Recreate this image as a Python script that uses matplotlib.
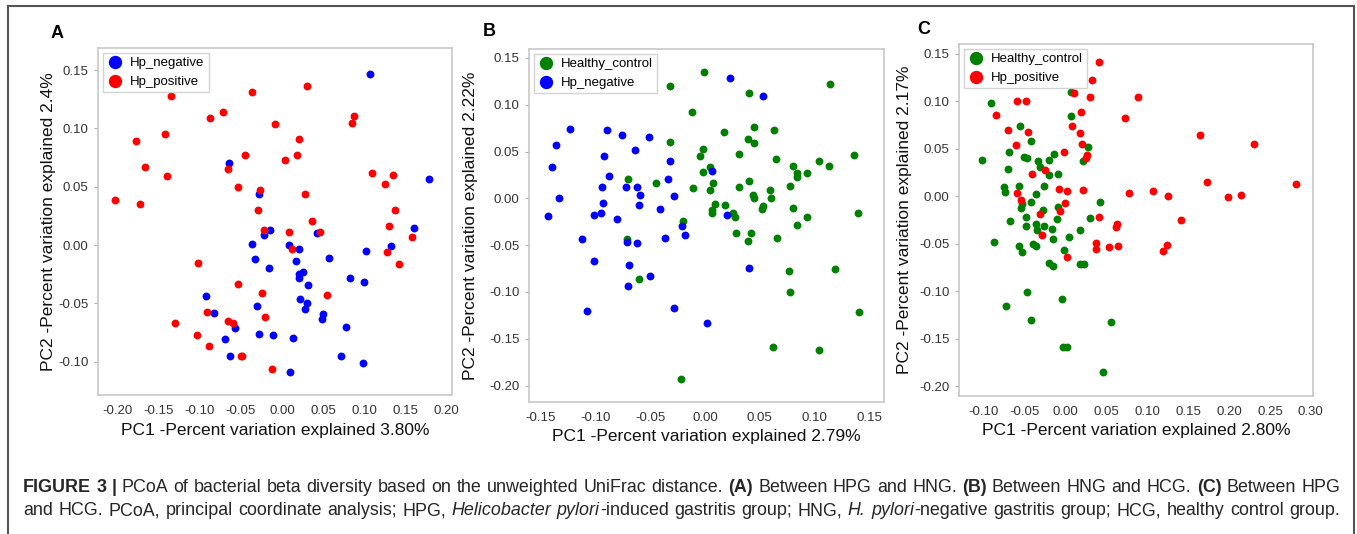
import matplotlib
matplotlib.use('Agg')
import matplotlib.pyplot as plt
from matplotlib.lines import Line2D

plt.rcParams['font.family'] = ['Liberation Sans', 'DejaVu Sans']
plt.rcParams['axes.unicode_minus'] = False

# ---- Panel A: Hp_negative vs Hp_positive ----
a_neg_x = [0.107, 0.179, -0.064, -0.028, -0.014, -0.022, 0.042, 0.160, -0.037, 0.008,
           0.021, 0.132, 0.102, -0.033, 0.017, 0.057, -0.016, 0.026, 0.021, 0.021,
           0.032, 0.083, 0.100, -0.092, 0.022, -0.030, 0.031, 0.028, -0.083, 0.050,
           0.049, -0.057, 0.078, -0.028, -0.011, -0.069, 0.013, -0.063, 0.072, 0.098,
           0.010]
a_neg_y = [0.147, 0.057, 0.070, 0.044, 0.013, 0.009, 0.010, 0.015, 0.001, -0.000,
           -0.003, -0.001, -0.005, -0.012, -0.014, -0.011, -0.020, -0.023, -0.025, -0.028,
           -0.034, -0.028, -0.032, -0.044, -0.046, -0.052, -0.050, -0.055, -0.058, -0.059,
           -0.063, -0.071, -0.070, -0.076, -0.077, -0.081, -0.080, -0.095, -0.095, -0.101,
           -0.109]
a_pos_x = [0.031, -0.037, -0.135, -0.072, -0.088, 0.088, 0.085, -0.009, -0.177, -0.142,
           0.021, -0.045, 0.018, 0.004, -0.166, -0.066, -0.140, 0.110, 0.135, 0.125,
           -0.053, -0.027, 0.028, -0.203, -0.172, -0.029, 0.138, 0.036, 0.130, -0.022,
           0.009, 0.046, 0.158, 0.012, 0.128, -0.102, 0.142, -0.054, -0.024, 0.055,
           -0.091, -0.021, -0.130, -0.065, -0.060, -0.103, -0.089, -0.049, -0.050, -0.012]
a_pos_y = [0.136, 0.131, 0.128, 0.114, 0.109, 0.111, 0.105, 0.104, 0.089, 0.095,
           0.091, 0.077, 0.077, 0.073, 0.067, 0.065, 0.059, 0.062, 0.060, 0.052,
           0.050, 0.047, 0.044, 0.039, 0.035, 0.030, 0.030, 0.021, 0.016, 0.013,
           0.011, 0.011, 0.007, -0.003, -0.006, -0.015, -0.016, -0.033, -0.041, -0.043,
           -0.057, -0.062, -0.067, -0.065, -0.067, -0.077, -0.087, -0.095, -0.095, -0.106]

# ---- Panel B: Healthy_control vs Hp_negative ----
b_hc_x = [-0.001, -0.032, 0.114, 0.040, -0.012, 0.017, 0.045, 0.063, 0.039, 0.045,
          -0.032, -0.002, -0.005, 0.031, 0.065, 0.136, 0.104, 0.113, 0.080, 0.005,
          -0.002, 0.084, 0.084, 0.093, -0.070, -0.045, 0.007, -0.011, 0.005, 0.031,
          0.040, 0.078, 0.059, 0.044, 0.045, 0.060, 0.009, 0.018, 0.053, 0.052,
          0.080, 0.006, 0.006, 0.026, 0.027, 0.140, 0.093, 0.084, -0.020, 0.028,
          0.042, 0.039, 0.066, -0.071, -0.060, 0.077, 0.119, 0.078, 0.141, 0.062,
          0.104, -0.022]
b_hc_y = [0.135, 0.120, 0.122, 0.113, 0.092, 0.071, 0.076, 0.073, 0.063, 0.059,
          0.060, 0.053, 0.045, 0.047, 0.042, 0.046, 0.040, 0.034, 0.035, 0.033,
          0.028, 0.027, 0.023, 0.027, 0.021, 0.016, 0.016, 0.011, 0.009, 0.012,
          0.019, 0.013, 0.009, 0.003, -0.000, -0.000, -0.006, -0.007, -0.008, -0.011,
          -0.010, -0.013, -0.016, -0.016, -0.020, -0.016, -0.020, -0.029, -0.024, -0.037,
          -0.037, -0.046, -0.042, -0.044, -0.086, -0.078, -0.075, -0.100, -0.121, -0.159,
          -0.162, -0.193]
b_neg_x = [0.023, 0.053, -0.123, -0.090, -0.076, -0.051, -0.136, -0.064, -0.092, -0.032,
           -0.140, 0.006, -0.088, -0.034, -0.094, -0.072, -0.062, -0.059, -0.133, -0.028,
           -0.093, -0.060, -0.041, -0.143, -0.101, -0.095, -0.080, 0.020, -0.021, -0.018,
           -0.112, -0.037, -0.071, -0.062, -0.101, -0.069, -0.050, -0.070, 0.040, -0.108,
           -0.028, 0.002]
b_neg_y = [0.129, 0.109, 0.074, 0.073, 0.068, 0.066, 0.057, 0.052, 0.045, 0.040,
           0.033, 0.029, 0.024, 0.021, 0.012, 0.012, 0.012, 0.004, 0.000, 0.002,
           -0.005, -0.007, -0.011, -0.019, -0.018, -0.016, -0.022, -0.018, -0.030, -0.039,
           -0.043, -0.042, -0.047, -0.048, -0.067, -0.071, -0.083, -0.094, -0.074, -0.120,
           -0.117, -0.133]

# ---- Panel C: Healthy_control vs Hp_positive ----
c_hc_x = [-0.091, 0.007, 0.006, -0.056, -0.043, -0.070, 0.027, -0.102, -0.051, -0.047,
          -0.034, -0.021, -0.014, 0.021, -0.071, -0.032, -0.020, -0.009, -0.075, -0.074,
          -0.057, -0.027, -0.036, -0.042, -0.054, -0.055, 0.042, -0.010, -0.028, -0.011,
          0.030, -0.068, -0.049, -0.049, -0.036, -0.026, -0.017, -0.035, 0.017, 0.004,
          -0.015, -0.088, -0.057, -0.053, -0.040, -0.036, -0.002, -0.020, -0.015, 0.018,
          0.022, -0.047, -0.004, -0.073, -0.043, 0.055, -0.003, 0.001, 0.046]
c_hc_y = [0.098, 0.110, 0.084, 0.074, 0.058, 0.047, 0.052, 0.038, 0.041, 0.040,
          0.037, 0.038, 0.044, 0.037, 0.029, 0.031, 0.022, 0.023, 0.010, 0.004,
          0.011, 0.011, 0.002, -0.006, -0.008, -0.012, -0.006, -0.011, -0.015, -0.024,
          -0.023, -0.026, -0.022, -0.031, -0.029, -0.031, -0.034, -0.035, -0.036, -0.043,
          -0.045, -0.048, -0.052, -0.059, -0.050, -0.052, -0.057, -0.070, -0.073, -0.071,
          -0.071, -0.101, -0.108, -0.115, -0.130, -0.132, -0.158, -0.158, -0.185]
c_pos_x = [0.041, 0.032, 0.010, 0.030, 0.088, -0.060, -0.049, -0.085, 0.019, 0.072,
           -0.071, -0.046, 0.008, 0.018, -0.061, 0.020, 0.164, 0.231, -0.002, 0.026,
           0.025, -0.025, -0.041, -0.008, 0.002, 0.021, -0.060, -0.055, 0.173, 0.282,
           0.078, 0.107, 0.125, 0.199, 0.215, -0.001, -0.032, -0.007, 0.041, 0.141,
           0.063, 0.062, -0.029, 0.037, 0.037, 0.053, 0.064, 0.124, 0.119, 0.001]
c_pos_y = [0.141, 0.122, 0.109, 0.104, 0.104, 0.100, 0.100, 0.085, 0.088, 0.082,
           0.070, 0.067, 0.074, 0.066, 0.054, 0.055, 0.064, 0.055, 0.046, 0.043,
           0.040, 0.028, 0.023, 0.008, 0.006, 0.007, 0.003, -0.004, 0.015, 0.013,
           0.003, 0.005, -0.000, -0.001, 0.001, -0.007, -0.019, -0.016, -0.022, -0.025,
           -0.029, -0.032, -0.041, -0.049, -0.055, -0.053, -0.052, -0.051, -0.058, -0.064]

x_labels = ['PC1 -Percent variation explained 3.80%',
            'PC1 -Percent variation explained 2.79%',
            'PC1 -Percent variation explained 2.80%']
y_labels = ['PC2 -Percent variation explained 2.4%',
            'PC2 -Percent variation explained 2.22%',
            'PC2 -Percent variation explained 2.17%']

caption_lines = [
    "#FIGURE 3 |# PCoA of bacterial beta diversity based on the unweighted UniFrac distance. "
    "#(A)# Between HPG and HNG. #(B)# Between HNG and HCG. #(C)# Between HPG",
    "and HCG. PCoA, principal coordinate analysis; HPG, ~Helicobacter pylori~-induced gastritis "
    "group; HNG, ~H. pylori~-negative gastritis group; HCG, healthy control group.",
]

BLUE = '#0000ff'
RED = '#ff0000'
GREEN = '#008000'

W, H = 1357, 534
fig = plt.figure(figsize=(W / 100, H / 100), dpi=100)


def px_rect(left, top, right, bottom):
    return [left / W, 1 - bottom / H, (right - left) / W, (bottom - top) / H]


def make_panel(rect, groups, xlim, ylim, xticks, yticks, xlabel, ylabel, ylab_x, xlab_y):
    ax = fig.add_axes(rect)
    for name, xs, ys, col in groups:
        ax.scatter(xs, ys, s=32, c=col, linewidths=0, label=name, zorder=3)
    ax.set_xlim(xlim)
    ax.set_ylim(ylim)
    ax.set_xticks(xticks)
    ax.set_yticks(yticks)
    ax.set_xticklabels(['%.2f' % t for t in xticks])
    ax.set_yticklabels(['%.2f' % t for t in yticks])
    for sp in ax.spines.values():
        sp.set_color('#c8c8c8')
        sp.set_linewidth(1.2)
    ax.tick_params(axis='both', labelsize=9.5, labelcolor='#333333', color='#b0b0b0')
    ax.tick_params(axis='x', length=0, pad=7)
    ax.tick_params(axis='y', length=3, pad=4)
    ax.set_xlabel(xlabel, fontsize=12.5, color='#111111')
    ax.set_ylabel(ylabel, fontsize=12.5, color='#111111')
    ax.xaxis.set_label_coords(rect[0] + rect[2] / 2, 1 - xlab_y / H, transform=fig.transFigure)
    ax.xaxis.label.set_va('center')
    ax.yaxis.set_label_coords(ylab_x / W, rect[1] + rect[3] / 2, transform=fig.transFigure)
    ax.yaxis.label.set_va('center')
    leg = ax.legend(loc='upper left', fontsize=9.5, markerscale=1.7, frameon=True,
                    fancybox=False, edgecolor='#c8c8c8', borderpad=0.3,
                    labelspacing=0.5, handletextpad=0.5, borderaxespad=0.35,
                    handlelength=1.3)
    leg.get_frame().set_linewidth(1.0)
    return ax


make_panel(px_rect(98, 48, 452, 395),
           [('Hp_negative', a_neg_x, a_neg_y, BLUE), ('Hp_positive', a_pos_x, a_pos_y, RED)],
           (-0.2236, 0.2067), (-0.1286, 0.169),
           [-0.20, -0.15, -0.10, -0.05, 0.00, 0.05, 0.10, 0.15, 0.20],
           [-0.10, -0.05, 0.00, 0.05, 0.10, 0.15],
           x_labels[0], y_labels[0], 49, 431)

make_panel(px_rect(529, 49, 884, 402),
           [('Healthy_control', b_hc_x, b_hc_y, GREEN), ('Hp_negative', b_neg_x, b_neg_y, BLUE)],
           (-0.1608, 0.1635), (-0.2176, 0.1595),
           [-0.15, -0.10, -0.05, 0.00, 0.05, 0.10, 0.15],
           [-0.20, -0.15, -0.10, -0.05, 0.00, 0.05, 0.10, 0.15],
           x_labels[1], y_labels[1], 470, 437)

make_panel(px_rect(959, 44, 1313, 396),
           [('Healthy_control', c_hc_x, c_hc_y, GREEN), ('Hp_positive', c_pos_x, c_pos_y, RED)],
           (-0.1306, 0.3027), (-0.210, 0.160),
           [-0.10, -0.05, 0.00, 0.05, 0.10, 0.15, 0.20, 0.25, 0.30],
           [-0.20, -0.15, -0.10, -0.05, 0.00, 0.05, 0.10, 0.15],
           x_labels[2], y_labels[2], 905, 431)

# panel letters
for letter, lx, ly in [('A', 57, 33), ('B', 489, 32), ('C', 924, 30)]:
    fig.text(lx / W, 1 - ly / H, letter, fontsize=13, fontweight='bold',
             ha='center', va='center', color='black')

# outer frame (open at the bottom)
frame_kw = dict(color='#555555', linewidth=1.5, transform=fig.transFigure)
fig.add_artist(Line2D([7.5 / W, 7.5 / W], [0, 1 - 6 / H], **frame_kw))
fig.add_artist(Line2D([7.5 / W, 1354 / W], [1 - 6 / H, 1 - 6 / H], **frame_kw))
fig.add_artist(Line2D([1354 / W, 1354 / W], [0, 1 - 6 / H], **frame_kw))


# caption, justified between two x positions
def parse_line(s):
    words, cur, seg = [], [], ''
    bold = ital = False
    for ch in s:
        if ch in '#~ ':
            if seg:
                cur.append((seg, bold, ital))
                seg = ''
            if ch == '#':
                bold = not bold
            elif ch == '~':
                ital = not ital
            elif cur:
                words.append(cur)
                cur = []
        else:
            seg += ch
    if seg:
        cur.append((seg, bold, ital))
    if cur:
        words.append(cur)
    return words


renderer = fig.canvas.get_renderer()
cap_left, cap_right = 23, 1340
for line, base_y in zip(caption_lines, [492, 515]):
    words = parse_line(line)
    placed = []
    total = 0
    for w in words:
        wlist = []
        for txt, b, it in w:
            t = fig.text(0, 1 - base_y / H, txt, fontsize=12.9, color='#262626',
                         fontweight='bold' if b else 'normal',
                         fontstyle='italic' if it else 'normal', va='baseline')
            wd = t.get_window_extent(renderer).width
            wlist.append((t, wd))
            total += wd
        placed.append(wlist)
    gap = (cap_right - cap_left - total) / (len(words) - 1)
    x = cap_left
    for wlist in placed:
        for t, wd in wlist:
            t.set_x(x / W)
            x += wd
        x += gap

fig.savefig('out.png', dpi=100)
